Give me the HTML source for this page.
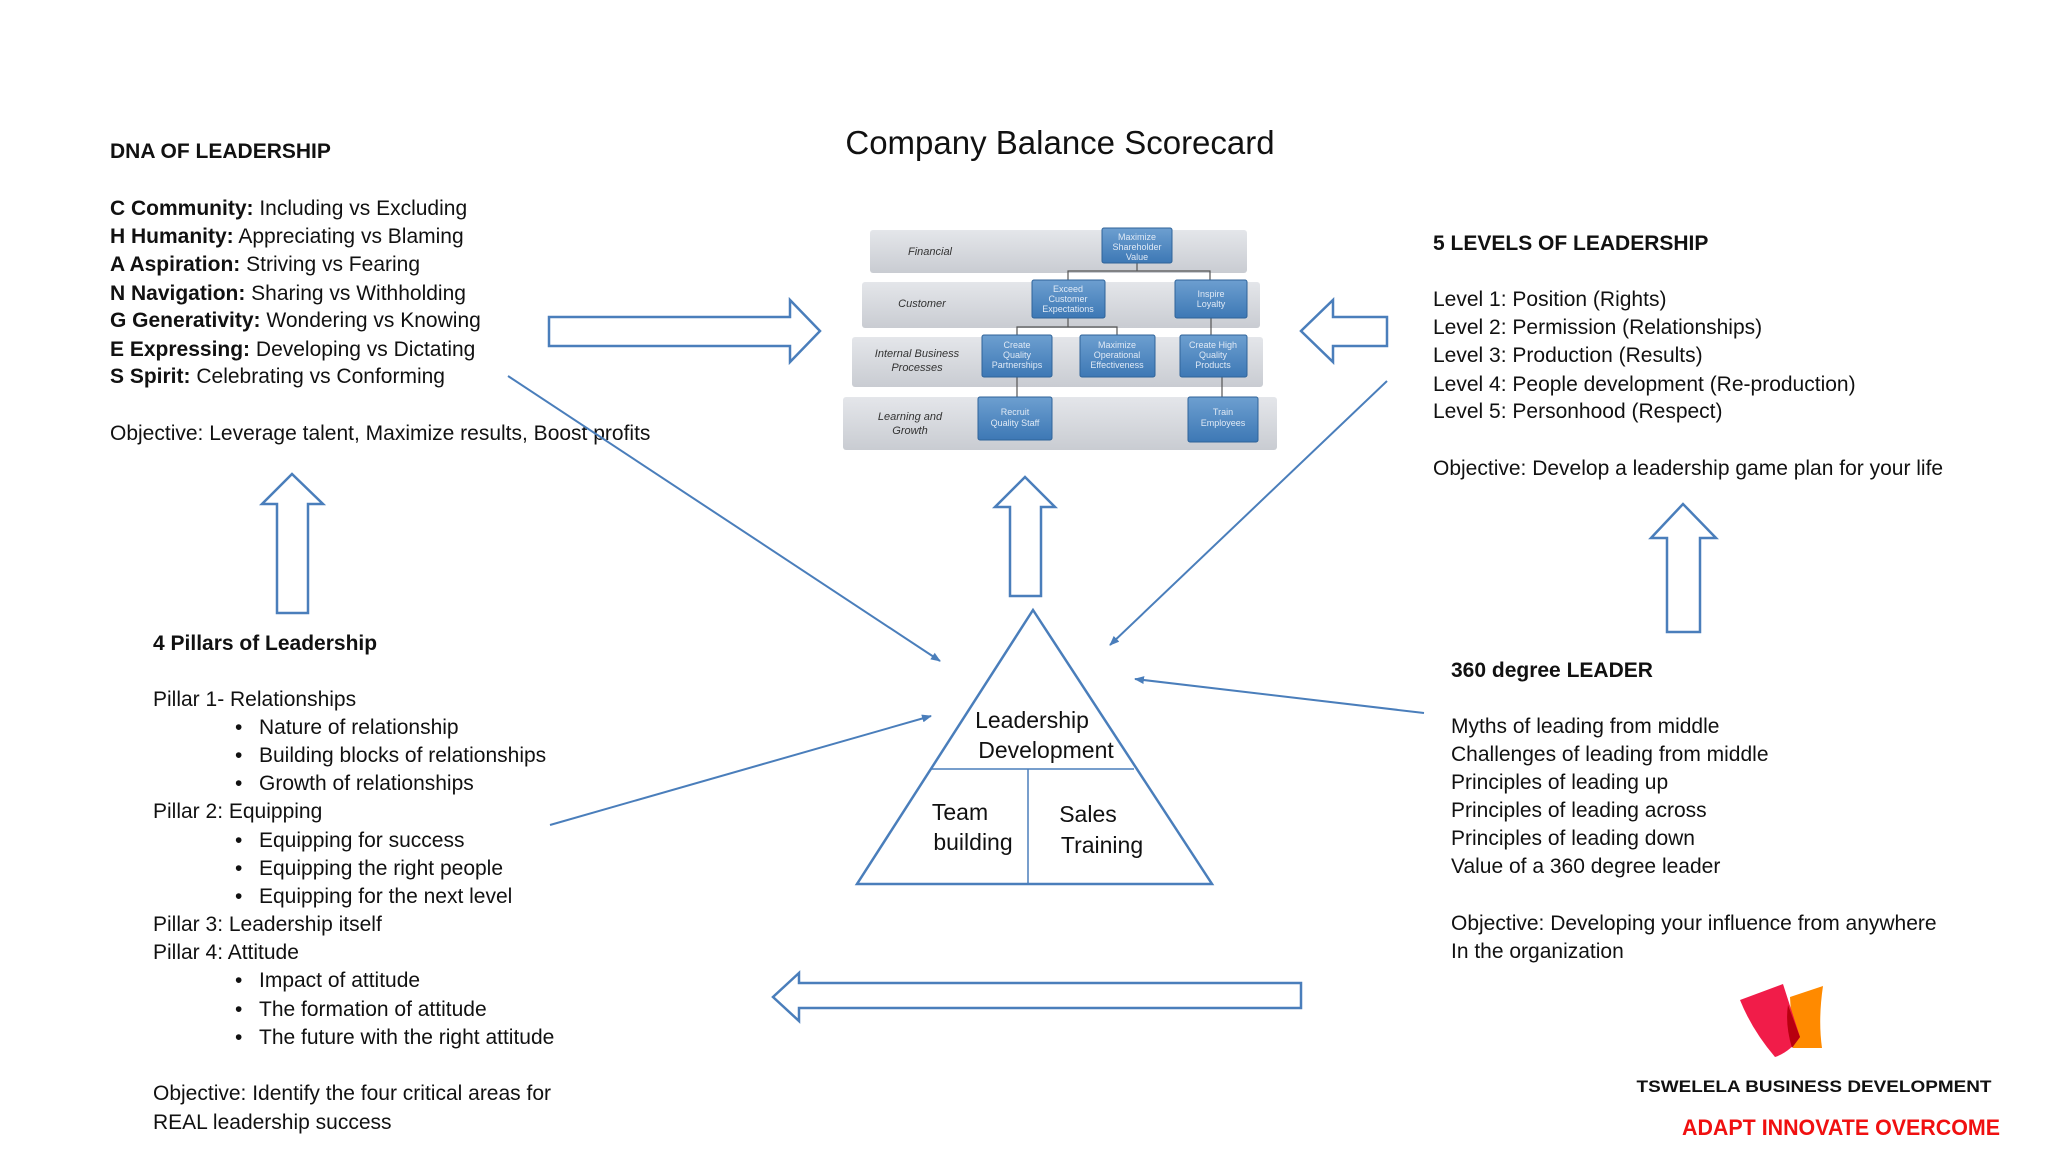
<!DOCTYPE html>
<html><head><meta charset="utf-8"><style>
html,body{margin:0;padding:0;background:#fff;}
svg{display:block;}
text{font-family:"Liberation Sans",sans-serif;fill:#111;}
.t{font-size:21px;}
.b{font-weight:bold;}
.sc{font-size:9px;fill:#dfe9f5;text-anchor:middle;}
.sl{font-size:11px;fill:#333;font-style:italic;text-anchor:middle;}
</style></head><body>
<svg width="2048" height="1152" viewBox="0 0 2048 1152" xmlns="http://www.w3.org/2000/svg">
<defs>
<marker id="ah" markerWidth="10" markerHeight="8" refX="9" refY="4" orient="auto" markerUnits="userSpaceOnUse">
<path d="M0,0 L10,4 L0,8 z" fill="#4a7ebb"/></marker>
<linearGradient id="rg" x1="0" y1="0" x2="0" y2="1"><stop offset="0" stop-color="#e4e6ea"/><stop offset="1" stop-color="#c9ccd2"/></linearGradient>
<linearGradient id="bg" x1="0" y1="0" x2="0" y2="1"><stop offset="0" stop-color="#6d9fd0"/><stop offset="1" stop-color="#3d78b5"/></linearGradient>
</defs>

<text x="1060" y="154" font-size="33" text-anchor="middle">Company Balance Scorecard</text>

<g class="t">
<text x="110" y="158" class="b">DNA OF LEADERSHIP</text>
<text x="110" y="215"><tspan class="b">C Community:</tspan> Including vs Excluding</text>
<text x="110" y="243"><tspan class="b">H Humanity:</tspan>    Appreciating vs Blaming</text>
<text x="110" y="271"><tspan class="b">A Aspiration:</tspan>   Striving vs Fearing</text>
<text x="110" y="300"><tspan class="b">N Navigation:</tspan>  Sharing vs Withholding</text>
<text x="110" y="327"><tspan class="b">G Generativity:</tspan> Wondering vs Knowing</text>
<text x="110" y="356"><tspan class="b">E Expressing:</tspan> Developing vs Dictating</text>
<text x="110" y="383"><tspan class="b">S Spirit:</tspan> Celebrating vs Conforming</text>
<text x="110" y="440">Objective: Leverage talent, Maximize results, Boost profits</text>
</g>

<g class="t">
<text x="1433" y="250" class="b">5 LEVELS OF LEADERSHIP</text>
<text x="1433" y="306">Level 1: Position (Rights)</text>
<text x="1433" y="334">Level 2: Permission (Relationships)</text>
<text x="1433" y="362">Level 3: Production (Results)</text>
<text x="1433" y="391">Level 4: People development (Re-production)</text>
<text x="1433" y="418">Level 5: Personhood (Respect)</text>
<text x="1433" y="475">Objective: Develop a leadership game plan for your life</text>
</g>

<g class="t">
<text x="153" y="650" class="b">4 Pillars of Leadership</text>
<text x="153" y="706">Pillar 1- Relationships</text>
<text x="235" y="734">•</text><text x="259" y="734">Nature of relationship</text>
<text x="235" y="762">•</text><text x="259" y="762">Building blocks of relationships</text>
<text x="235" y="790">•</text><text x="259" y="790">Growth of relationships</text>
<text x="153" y="818">Pillar 2: Equipping</text>
<text x="235" y="847">•</text><text x="259" y="847">Equipping for success</text>
<text x="235" y="875">•</text><text x="259" y="875">Equipping the right people</text>
<text x="235" y="903">•</text><text x="259" y="903">Equipping for the next level</text>
<text x="153" y="931">Pillar 3: Leadership itself</text>
<text x="153" y="959">Pillar 4: Attitude</text>
<text x="235" y="987">•</text><text x="259" y="987">Impact of attitude</text>
<text x="235" y="1016">•</text><text x="259" y="1016">The formation of attitude</text>
<text x="235" y="1044">•</text><text x="259" y="1044">The future with the right attitude</text>
<text x="153" y="1100">Objective: Identify the four critical areas for</text>
<text x="153" y="1129">REAL leadership success</text>
</g>

<g class="t">
<text x="1451" y="677" class="b">360 degree LEADER</text>
<text x="1451" y="733">Myths of leading from middle</text>
<text x="1451" y="761">Challenges of leading from middle</text>
<text x="1451" y="789">Principles of leading up</text>
<text x="1451" y="817">Principles of leading across</text>
<text x="1451" y="845">Principles of leading down</text>
<text x="1451" y="873">Value of a 360 degree leader</text>
<text x="1451" y="930">Objective: Developing your influence from anywhere</text>
<text x="1451" y="958">In the organization</text>
</g>

<g fill="#fff" stroke="#4a7ebb" stroke-width="2.5">
<path d="M549,317 L790,317 L790,300 L820,331 L790,362 L790,346 L549,346 Z"/>
<path d="M1387,317 L1333,317 L1333,300 L1301,331 L1333,362 L1333,346 L1387,346 Z"/>
<path d="M277,613 L277,504 L262,504 L292,474 L323,504 L308,504 L308,613 Z"/>
<path d="M1010,596 L1010,507 L995,507 L1025,477 L1055,507 L1041,507 L1041,596 Z"/>
<path d="M1667,632 L1667,538 L1651,538 L1683,504 L1716,538 L1700,538 L1700,632 Z"/>
<path d="M1301,983 L799,983 L799,973 L773,997 L799,1021 L799,1008 L1301,1008 Z"/>
</g>

<g stroke="#4a7ebb" stroke-width="2" marker-end="url(#ah)">
<line x1="508" y1="376" x2="940" y2="661"/>
<line x1="1387" y1="381" x2="1110" y2="645"/>
<line x1="1424" y1="713" x2="1135" y2="679"/>
<line x1="550" y1="825" x2="931" y2="716"/>
</g>

<g fill="none" stroke="#4a7ebb" stroke-width="2.5">
<path d="M1033,610 L1212,884 L857,884 Z"/>
<line x1="931" y1="769" x2="1134" y2="769" stroke-width="1.5"/>
<line x1="1028" y1="769" x2="1028" y2="884" stroke-width="1.5"/>
</g>
<g font-size="23" text-anchor="middle">
<text x="1032" y="728">Leadership</text>
<text x="1046" y="758">Development</text>
<text x="960" y="820">Team</text>
<text x="973" y="850">building</text>
<text x="1088" y="822">Sales</text>
<text x="1102" y="853">Training</text>
</g>

<g>
<rect x="870" y="230" width="377" height="43" rx="3" fill="url(#rg)"/>
<rect x="862" y="282" width="398" height="46" rx="3" fill="url(#rg)"/>
<rect x="852" y="337" width="411" height="50" rx="3" fill="url(#rg)"/>
<rect x="843" y="397" width="434" height="53" rx="3" fill="url(#rg)"/>
<g stroke="#555" stroke-width="1.2" fill="none">
<path d="M1137,263 V271 H1068 V280 M1137,271 H1210 V280"/>
<path d="M1068,318 V327 H1017 V335 M1068,327 H1117 V335"/>
<path d="M1211,318 V335"/>
<path d="M1017,377 V397"/><path d="M1222,377 V397"/>
</g>
<g fill="url(#bg)" stroke="#2f6399" stroke-width="1">
<rect x="1102" y="228" width="70" height="35" rx="2"/>
<rect x="1032" y="280" width="73" height="38" rx="2"/>
<rect x="1175" y="280" width="72" height="38" rx="2"/>
<rect x="982" y="335" width="70" height="42" rx="2"/>
<rect x="1080" y="335" width="75" height="42" rx="2"/>
<rect x="1180" y="335" width="67" height="42" rx="2"/>
<rect x="978" y="397" width="74" height="43" rx="2"/>
<rect x="1188" y="397" width="70" height="45" rx="2"/>
</g>
<text class="sl" x="930" y="255">Financial</text>
<text class="sl" x="922" y="307">Customer</text>
<text class="sl" x="917" y="357">Internal Business</text>
<text class="sl" x="917" y="371">Processes</text>
<text class="sl" x="910" y="420">Learning and</text>
<text class="sl" x="910" y="434">Growth</text>
<text class="sc" x="1137" y="240">Maximize</text><text class="sc" x="1137" y="250">Shareholder</text><text class="sc" x="1137" y="260">Value</text>
<text class="sc" x="1068" y="292">Exceed</text><text class="sc" x="1068" y="302">Customer</text><text class="sc" x="1068" y="312">Expectations</text>
<text class="sc" x="1211" y="297">Inspire</text><text class="sc" x="1211" y="307">Loyalty</text>
<text class="sc" x="1017" y="348">Create</text><text class="sc" x="1017" y="358">Quality</text><text class="sc" x="1017" y="368">Partnerships</text>
<text class="sc" x="1117" y="348">Maximize</text><text class="sc" x="1117" y="358">Operational</text><text class="sc" x="1117" y="368">Effectiveness</text>
<text class="sc" x="1213" y="348">Create High</text><text class="sc" x="1213" y="358">Quality</text><text class="sc" x="1213" y="368">Products</text>
<text class="sc" x="1015" y="415">Recruit</text><text class="sc" x="1015" y="426">Quality Staff</text>
<text class="sc" x="1223" y="415">Train</text><text class="sc" x="1223" y="426">Employees</text>
</g>

<path d="M1790,997 L1823,986 Q1818,1020 1822,1048 L1793,1048 Z" fill="#ff8a00"/>
<path d="M1740,1000 L1783,984 L1800,1037 Q1790,1052 1775,1057 Q1752,1030 1740,1000 Z" fill="#f0103f" opacity="0.95"/>
<path d="M1788,1005 L1800,1037 L1792,1048 Q1785,1025 1788,1005 Z" fill="#b8000f"/>
<text x="1814" y="1092" font-size="17" font-weight="bold" text-anchor="middle" fill="#000" textLength="355" lengthAdjust="spacingAndGlyphs">TSWELELA BUSINESS DEVELOPMENT</text>
<text x="1841" y="1135" font-size="22" font-weight="bold" text-anchor="middle" style="fill:#f01010" textLength="318" lengthAdjust="spacingAndGlyphs">ADAPT INNOVATE OVERCOME</text>
</svg>
</body></html>
